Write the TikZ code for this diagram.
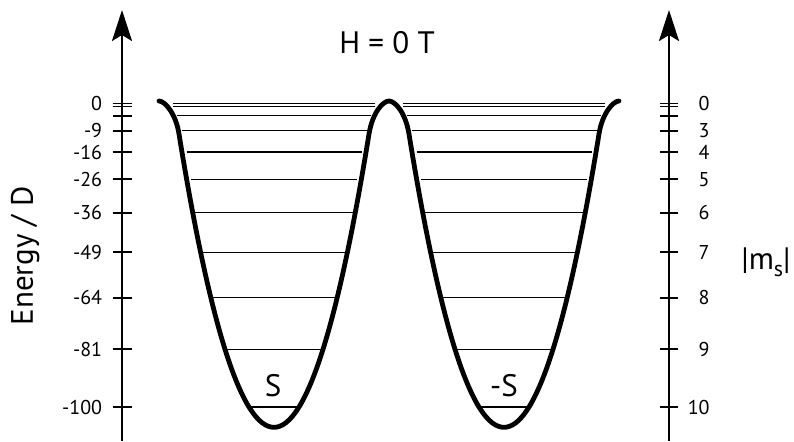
\documentclass[tikz,border=0pt]{standalone}
\usepackage{fontspec}
\setmainfont{PT Sans}
\usetikzlibrary{arrows.meta}
\tikzset{
  axisline/.style={line width=1.1pt,-{Stealth[length=15.5pt,width=10pt,inset=3pt]}},
  tickmark/.style={line width=0.9pt},
  well/.style={line width=2.4pt,line cap=round,line join=round},
  level/.style={line width=0.65pt},
  tlbl/.style={font=\fontsize{10}{11}\selectfont,inner sep=0pt},
  big/.style={font=\fontsize{15.5}{17}\selectfont,inner sep=0pt}
}
\begin{document}
\begin{tikzpicture}[x=0.5pt,y=-0.5pt]
\useasboundingbox (0,0) rectangle (794,441);
\coordinate (lbot) at (122,441);
\coordinate (ltop) at (122,10);
\coordinate (rbot) at (669,441);
\coordinate (rtop) at (669,10);
\draw[axisline] (lbot) -- (ltop);
\draw[axisline] (rbot) -- (rtop);
\foreach \e in {0,-1,-4,-9,-16,-25,-36,-49,-64,-81,-100}{
  \pgfmathsetmacro\yy{103.5-3.035*\e}
  \draw[tickmark] (112.5,\yy) -- (131.5,\yy);
  \draw[tickmark] (660,\yy) -- (678,\yy);
}
\foreach \e/\el/\ms in {0/0/0,-9/-9/3,-16/-16/4,-25/-26/5,-36/-36/6,-49/-49/7,-64/-64/8,-81/-81/9,-100/-100/10}{
  \pgfmathsetmacro\yy{103.5-3.035*\e}
  \node[tlbl,anchor=east] (el\ms) at (102.5,\yy) {\el};
  \node[tlbl,anchor=east] (ms\ms) at (710,\yy) {\ms};
}
\foreach \e/\hw in {0/101,-1/101,-4/97,-9/92.5,-16/87.5,-25/83,-36/79,-49/71,-64/61.5,-81/47.5,-100/25.5}{
  \pgfmathsetmacro\yy{103.5-3.035*\e}
  \draw[level] (274-\hw,\yy) -- (274+\hw,\yy);
  \draw[level] (504-\hw,\yy) -- (504+\hw,\yy);
}
\draw[well] (159,101) .. controls (165,101) and (176,114) .. (179,134)
  .. controls (242.33,525.1) and (305.67,525.1) .. (369,134)
  .. controls (372.5,112.4) and (383,101) .. (389,101)
  .. controls (395,101) and (405.5,112.4) .. (409,134)
  .. controls (472.33,525.1) and (535.67,525.1) .. (599,134)
  .. controls (602,114) and (613,101) .. (619,101);
\node[big] (hlab) at (387,43) {H = 0 T};
\node[big,rotate=90] (elab) at (25,256) {Energy / D};
\node[big] (slab) at (273,386) {S};
\node[big] (mslab) at (504,386) {-S};
\node[big] (mlab) at (766,262) {|m\raisebox{-0.45ex}{\fontsize{11}{12}\selectfont s}|};
\end{tikzpicture}
\end{document}
